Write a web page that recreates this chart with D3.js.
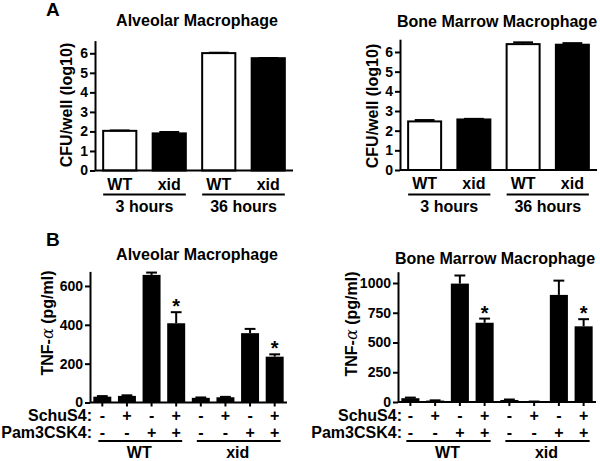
<!DOCTYPE html>
<html>
<head>
<meta charset="utf-8">
<script src="https://cdn.jsdelivr.net/npm/d3@7/dist/d3.min.js"></script>
<style>
html,body{margin:0;padding:0;background:#fff;}
svg{display:block;}
text{font-family:"Liberation Sans",Arial,Helvetica,sans-serif;font-weight:bold;fill:#000;}
</style>
</head>
<body>
<svg id="chart" width="600" height="461"></svg>
<script>
// ---------- DATA ----------
const cfuBars = ["WT 3h", "xid 3h", "WT 36h", "xid 36h"];
const cfuBarLabels = ["WT", "xid", "WT", "xid"];
const cfuGroups = ["3 hours", "36 hours"];
const cfuFill = ["#fff", "#000", "#fff", "#000"];
const cfuTicks = [0, 1, 2, 3, 4, 5, 6];

const alvCFU = [2.03, 1.90, 6.01, 5.75];
const alvCFUErr = [0.02, 0.07, 0.02, 0.01];
const bmCFU = [2.47, 2.57, 6.40, 6.37];
const bmCFUErr = [0.07, 0.03, 0.09, 0.08];

const tnfBars = ["1", "2", "3", "4", "5", "6", "7", "8"];
const schuS4 = ["-", "+", "-", "+", "-", "+", "-", "+"];
const pam3 = ["-", "-", "+", "+", "-", "-", "+", "+"];
const strains = ["WT", "xid"];
const starIdx = [3, 7];

const alvTNF = [30, 34, 657, 408, 24, 27, 357, 236];
const alvTNFErr = [3, 3, 12, 57, 2, 2, 22, 12];
const alvTicks = [0, 200, 400, 600];

const bmTNF = [32, 12, 995, 666, 17, 3, 900, 636];
const bmTNFErr = [5, 2, 68, 35, 4, 1, 120, 60];
const bmTicks = [0, 250, 500, 750, 1000];

// ---------- DRAW ----------
const svg = d3.select("#chart");
svg.append("rect").attr("width", 600).attr("height", 461).attr("fill", "#fff");

function styleAxis(g, fs) {
  g.select(".domain").attr("stroke", "#000").attr("stroke-width", 2);
  g.selectAll(".tick line").attr("stroke", "#000").attr("stroke-width", 2);
  g.selectAll(".tick text").attr("font-size", fs).attr("font-weight", "bold")
    .attr("font-family", '"Liberation Sans",Arial,sans-serif').attr("fill", "#000");
}

function drawPanel(o) {
  const g = svg.append("g");
  const x = d3.scaleBand().domain(o.cats).range(o.xr).paddingInner(o.pad).paddingOuter(o.pad / 2);
  const y = d3.scaleLinear().domain(o.yd).range(o.yr);
  const bw = x.bandwidth();

  g.selectAll("rect.bar").data(o.values).enter().append("rect")
    .attr("x", (d, i) => x(o.cats[i]))
    .attr("y", d => y(d))
    .attr("width", bw)
    .attr("height", d => y(0) - y(d))
    .attr("fill", (d, i) => o.fills[i])
    .attr("stroke", "#000").attr("stroke-width", o.barStroke);

  const cw = bw * o.capFrac;
  o.values.forEach((v, i) => {
    const e = o.errs[i];
    if (!e) return;
    const cx = x(o.cats[i]) + bw / 2;
    g.append("line").attr("x1", cx).attr("x2", cx).attr("y1", y(v)).attr("y2", y(v + e))
      .attr("stroke", "#000").attr("stroke-width", 2);
    g.append("line").attr("x1", cx - cw / 2).attr("x2", cx + cw / 2).attr("y1", y(v + e)).attr("y2", y(v + e))
      .attr("stroke", "#000").attr("stroke-width", 2);
  });

  const ya = g.append("g").attr("transform", `translate(${o.xr[0]},0)`)
    .call(d3.axisLeft(y).tickValues(o.ticks).tickFormat(d3.format("d"))
      .tickSize(5).tickSizeOuter(0).tickPadding(2));
  styleAxis(ya, o.tickFs);

  const xa = g.append("g").attr("transform", `translate(0,${o.yr[0]})`)
    .call(d3.axisBottom(x).tickSize(o.xTick).tickSizeOuter(0).tickPadding(8)
      .tickFormat((d, i) => o.xLabels ? o.xLabels[i] : ""));
  xa.select(".domain").attr("d", `M${o.xr[0]},0H${o.xr[1]}`);
  styleAxis(xa, 16);

  g.append("text").attr("transform", `translate(${o.ylx},${o.yly}) rotate(-90)`)
    .attr("text-anchor", "middle").attr("font-size", 16).html(o.ylab);

  g.append("text").attr("x", o.tx).attr("y", o.ty).attr("text-anchor", o.tAnchor)
    .attr("font-size", 16).text(o.title);

  return { g, x, y, bw };
}

function groupLine(g, x, bw, cats, y, inL, inR) {
  g.append("line").attr("x1", x(cats[0]) + inL).attr("x2", x(cats[cats.length - 1]) + bw - inR)
    .attr("y1", y).attr("y2", y).attr("stroke", "#000").attr("stroke-width", 2);
}

// Panel A left
const pAL = drawPanel({
  cats: cfuBars, values: alvCFU, errs: alvCFUErr, fills: cfuFill, xr: [95, 293], pad: 0.33,
  yd: [0, 6.65], yr: [170.5, 40.6], ticks: cfuTicks, tickFs: 14, barStroke: 2, capFrac: 0.6,
  xTick: 0, xLabels: cfuBarLabels, ylab: "CFU/well (log10)", ylx: 72, yly: 105,
  title: "Alveolar Macrophage", tx: 197, ty: 26, tAnchor: "middle"
});
// Panel A right
const pAR = drawPanel({
  cats: cfuBars, values: bmCFU, errs: bmCFUErr, fills: cfuFill, xr: [400, 597], pad: 0.33,
  yd: [0, 6.65], yr: [170, 39.2], ticks: cfuTicks, tickFs: 14, barStroke: 2, capFrac: 0.6,
  xTick: 0, xLabels: cfuBarLabels, ylab: "CFU/well (log10)", ylx: 378, yly: 106,
  title: "Bone Marrow Macrophage", tx: 397, ty: 26.5, tAnchor: "start"
});
[pAL, pAR].forEach(p => {
  [[0, 1], [2, 3]].forEach((idx, gi) => {
    const cats = idx.map(i => cfuBars[i]);
    groupLine(p.g, p.x, p.bw, cats, 194.5, 0, 0);
    const cx = (p.x(cats[0]) + p.x(cats[1]) + p.bw) / 2;
    p.g.append("text").attr("x", cx).attr("y", 212).attr("text-anchor", "middle")
      .attr("font-size", 16).text(cfuGroups[gi]);
  });
});

// Panel B
const tnfLabel = 'TNF-<tspan font-family="DejaVu Serif, serif" font-weight="normal" font-style="italic">α</tspan> (pg/ml)';
const pBL = drawPanel({
  cats: tnfBars, values: alvTNF, errs: alvTNFErr, fills: tnfBars.map(() => "#000"), xr: [90, 287], pad: 0.27,
  yd: [0, 675], yr: [402.5, 271.4], ticks: alvTicks, tickFs: 14, barStroke: 0, capFrac: 0.6,
  xTick: 4, xLabels: null, ylab: tnfLabel, ylx: 53, yly: 323,
  title: "Alveolar Macrophage", tx: 197, ty: 259.5, tAnchor: "middle"
});
const pBR = drawPanel({
  cats: tnfBars, values: bmTNF, errs: bmTNFErr, fills: tnfBars.map(() => "#000"), xr: [398, 596], pad: 0.27,
  yd: [0, 1095], yr: [402, 271.7], ticks: bmTicks, tickFs: 14, barStroke: 0, capFrac: 0.6,
  xTick: 4, xLabels: null, ylab: tnfLabel, ylx: 357, yly: 324,
  title: "Bone Marrow Macrophage", tx: 395, ty: 263.5, tAnchor: "start"
});

[[pBL, alvTNF, alvTNFErr, 92], [pBR, bmTNF, bmTNFErr, 402]].forEach(([p, vals, errs, lx]) => {
  p.g.append("text").attr("x", lx).attr("y", 421).attr("text-anchor", "end").attr("font-size", 16).text("SchuS4:");
  p.g.append("text").attr("x", lx).attr("y", 437.5).attr("text-anchor", "end").attr("font-size", 16).text("Pam3CSK4:");
  tnfBars.forEach((c, i) => {
    const cx = p.x(c) + p.bw / 2;
    p.g.append("text").attr("x", cx).attr("y", 421).attr("text-anchor", "middle").attr("font-size", 16).text(schuS4[i]);
    p.g.append("text").attr("x", cx).attr("y", 437.5).attr("text-anchor", "middle").attr("font-size", 16).text(pam3[i]);
  });
  starIdx.forEach(i => {
    const cx = p.x(tnfBars[i]) + p.bw / 2;
    p.g.append("text").attr("x", cx).attr("y", p.y(vals[i] + errs[i]) + 1).attr("text-anchor", "middle")
      .attr("font-size", 20).text("*");
  });
  [[0, 3], [4, 7]].forEach(([a, b], si) => {
    groupLine(p.g, p.x, p.bw, [tnfBars[a], tnfBars[b]], 441, 5, 3);
    const cx = (p.x(tnfBars[a]) + p.x(tnfBars[b]) + p.bw) / 2;
    p.g.append("text").attr("x", cx).attr("y", 458).attr("text-anchor", "middle").attr("font-size", 16).text(strains[si]);
  });
});

svg.append("text").attr("x", 46).attr("y", 16).attr("font-size", 19).text("A");
svg.append("text").attr("x", 46).attr("y", 246).attr("font-size", 19).text("B");
</script>
</body>
</html>
